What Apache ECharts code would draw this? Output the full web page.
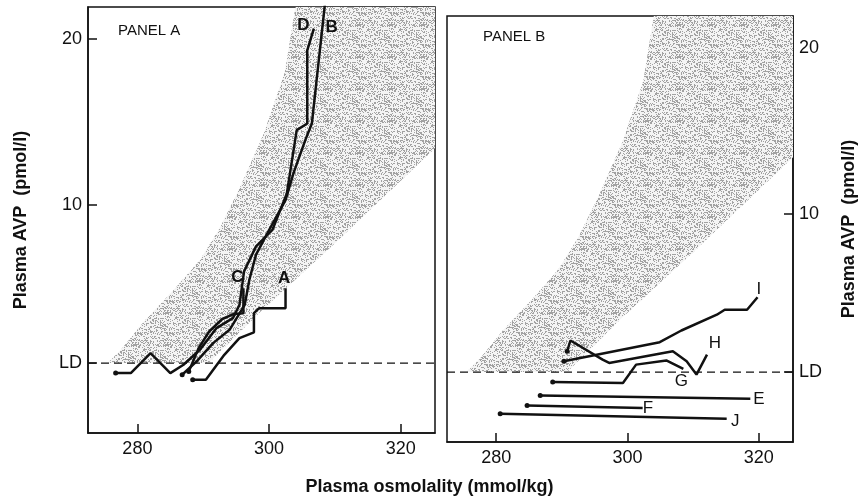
<!DOCTYPE html>
<html>
<head>
<meta charset="utf-8">
<script src="https://cdn.jsdelivr.net/npm/echarts@6/dist/echarts.min.js"></script>
<style>
  html, body { margin: 0; padding: 0; background: #fff; }
  #chart { width: 859px; height: 500px; }
</style>
</head>
<body>
<div id="chart"></div>
<script>
// ---- axis ticks ----
const xTicks = [280, 300, 320];
const LD = 0.5;                 // assay detection limit
const yTicks = [LD, 10, 20];

// ---- normal range band (osmolality, AVP) ----
const bandUpper = [[275.5, 0.5], [277.5, 1.3], [281, 3.0], [285.5, 4.9], [289.5, 6.7],
                   [292.5, 8.6], [295.5, 11.0], [299.2, 14.3], [302.4, 18.0], [304, 21.9]];
const bandLower = [[290.8, 0.5], [299, 3.7], [310, 7.7], [326.5, 13.9]];

// ---- panel A subjects ----
const lineA = [[288.4, -0.5], [290.4, -0.5], [293.2, 1.0], [295.5, 2.0], [297.7, 2.35],
               [297.7, 3.5], [298.5, 3.8], [302.5, 3.8], [302.5, 5.0]];
const lineB = [[286.8, -0.2], [289, 0.6], [291.5, 1.7], [294, 2.5], [296.3, 4.0], [297, 5.5],
               [298, 7.0], [300, 8.5], [302.5, 10.3], [303.7, 11.9], [305.5, 13.9],
               [306.5, 14.9], [308.6, 22.5]];
const lineC = [[287.8, 0.0], [289.3, 1.4], [290.9, 2.4], [292.9, 3.15], [294.6, 3.45],
               [296.1, 3.5], [296.1, 5.0]];
const lineD = [[276.7, -0.1], [279, -0.1], [282, 1.1], [285, -0.1], [287, 0.4], [289.5, 1.3],
               [292, 2.6], [294.5, 3.2], [295.5, 4.0], [296.2, 6.0], [298, 7.5], [300.5, 8.5],
               [302.7, 10.7], [304.2, 14.5], [305.8, 14.9], [305.8, 19.3], [306.8, 20.6]];
const tagsA = [['A', 302.3, 5.6], ['C', 295.2, 5.65], ['D', 305.2, 20.8], ['B', 309.5, 20.7]];

// ---- panel B subjects ----
const lineE = [[286.7, -0.9], [318.7, -1.1]];
const lineF = [[284.7, -1.5], [302.3, -1.65]];
const lineG = [[288.6, -0.1], [299.3, -0.15], [301.3, 0.95], [305.9, 1.2], [308.5, 0.7]];
const lineH = [[290.8, 1.75], [291.3, 2.4], [296.2, 1.25], [297.2, 1.05], [306.9, 1.75],
               [309, 1.15], [310.5, 0.35], [312.1, 1.55]];
const lineI = [[290.3, 1.15], [304.9, 2.3], [308.2, 3.0], [313.6, 3.95], [314.8, 4.25],
               [318.2, 4.25], [319.8, 5.0]];
const lineJ = [[280.6, -2.0], [315.1, -2.3]];
const tagsB = [['I', 320.0, 5.5], ['H', 313.3, 2.25], ['G', 308.2, -0.05],
               ['E', 320.0, -1.15], ['F', 303.1, -1.65], ['J', 316.4, -2.45]];

const X_MIN = 272.5, X_MAX = 325.2;
const Y_MIN = -3.7, Y_MAX = 21.9;
const FONT = '"Liberation Sans", Arial, Helvetica, sans-serif';
const INK = '#111';

// dithered grey texture used for the normal range
function stipple() {
  const n = 32;
  const c = document.createElement('canvas');
  c.width = n; c.height = n;
  const g = c.getContext('2d');
  g.fillStyle = '#f4f4f4';
  g.fillRect(0, 0, n, n);
  g.fillStyle = '#a2a2a2';
  for (let y = 0; y < n; y++) {
    for (let x = 0; x < n; x++) {
      const h = Math.sin(x * 12.9898 + y * 78.233) * 43758.5453;
      if (h - Math.floor(h) < 0.34) g.fillRect(x, y, 1, 1);
    }
  }
  return c;
}
const bandFill = { image: stipple(), repeat: 'repeat' };

const chart = echarts.init(document.getElementById('chart'), null, { renderer: 'canvas' });

function xAxis(gridIndex) {
  return {
    type: 'value', gridIndex, min: X_MIN, max: X_MAX,
    axisLine: { show: true, onZero: false, lineStyle: { color: INK, width: 1.5 } },
    axisTick: { show: true, inside: true, length: 9, customValues: xTicks,
                lineStyle: { color: INK, width: 1.5 } },
    axisLabel: { show: true, customValues: xTicks, margin: 7, fontSize: 18,
                 fontFamily: FONT, color: INK },
    splitLine: { show: false }
  };
}
function yAxis(gridIndex, position, nameGap) {
  return {
    type: 'value', gridIndex, position, min: Y_MIN, max: Y_MAX,
    name: 'Plasma AVP  (pmol/l)', nameLocation: 'middle', nameRotate: 90, nameGap,
    nameTextStyle: { fontSize: 18, fontWeight: 'bold', fontFamily: FONT, color: INK },
    axisLine: { show: true, onZero: false, lineStyle: { color: INK, width: 1.5 } },
    axisTick: { show: true, inside: true, length: 9, customValues: yTicks,
                lineStyle: { color: INK, width: 1.5 } },
    axisLabel: { show: true, customValues: yTicks, margin: 6, fontSize: 18,
                 fontFamily: FONT, color: INK,
                 formatter: v => (v === LD ? 'LD' : String(v)) },
    splitLine: { show: false }
  };
}

function band(idx) {
  return {
    type: 'custom', xAxisIndex: idx, yAxisIndex: idx, clip: true, silent: true, z: 1,
    data: [[X_MIN, Y_MIN]],
    renderItem: (params, api) => {
      const poly = bandUpper.concat([[X_MAX + 5, Y_MAX + 5]], bandLower.slice().reverse());
      return { type: 'polygon', shape: { points: poly.map(p => api.coord(p)) },
               style: { fill: bandFill } };
    }
  };
}
function ldLine(idx) {
  return {
    type: 'line', xAxisIndex: idx, yAxisIndex: idx, data: [[X_MIN, LD], [X_MAX, LD]],
    symbol: 'none', silent: true, z: 2,
    lineStyle: { color: INK, width: 1.3, type: [8, 5] }
  };
}
function subject(idx, data) {
  return {
    type: 'line', xAxisIndex: idx, yAxisIndex: idx, data, clip: true, z: 3,
    symbol: 'circle', symbolSize: (v, p) => (p.dataIndex === 0 ? 5 : 0),
    itemStyle: { color: INK },
    lineStyle: { color: INK, width: 2.5 }
  };
}
function tags(idx, list, weight) {
  return {
    type: 'scatter', xAxisIndex: idx, yAxisIndex: idx, symbolSize: 0, z: 4, silent: true,
    itemStyle: { color: INK },
    data: list.map(t => ({ name: t[0], value: [t[1], t[2]] })),
    label: { show: true, position: [0, 0], align: 'center', verticalAlign: 'middle',
             formatter: p => p.name, fontSize: 17, fontWeight: weight, fontFamily: FONT,
             color: INK, textBorderWidth: 0, opacity: 1 }
  };
}

chart.setOption({
  animation: false,
  backgroundColor: '#fff',
  title: [
    { text: 'PANEL A', left: 118, top: 23, padding: 0,
      textStyle: { fontSize: 15, fontWeight: 'normal', fontFamily: FONT, color: INK } },
    { text: 'PANEL B', left: 483, top: 29, padding: 0,
      textStyle: { fontSize: 15, fontWeight: 'normal', fontFamily: FONT, color: INK } },
    { text: 'Plasma osmolality (mmol/kg)', left: 'center', top: 478, padding: 0,
      textStyle: { fontSize: 18, fontWeight: 'bold', fontFamily: FONT, color: INK } }
  ],
  grid: [
    { left: 88, top: 7, width: 347, height: 426, show: true,
      borderColor: INK, borderWidth: 1.5, backgroundColor: 'transparent' },
    { left: 447, top: 16, width: 347, height: 426, show: true,
      borderColor: INK, borderWidth: 1.5, backgroundColor: 'transparent' }
  ],
  xAxis: [xAxis(0), xAxis(1)],
  yAxis: [yAxis(0, 'left', 58), yAxis(1, 'right', 47)],
  series: [
    band(0), ldLine(0),
    subject(0, lineA), subject(0, lineB), subject(0, lineC), subject(0, lineD),
    tags(0, tagsA, 'bold'),
    band(1), ldLine(1),
    subject(1, lineE), subject(1, lineF), subject(1, lineG),
    subject(1, lineH), subject(1, lineI), subject(1, lineJ),
    tags(1, tagsB, 'normal')
  ]
});
</script>
</body>
</html>
